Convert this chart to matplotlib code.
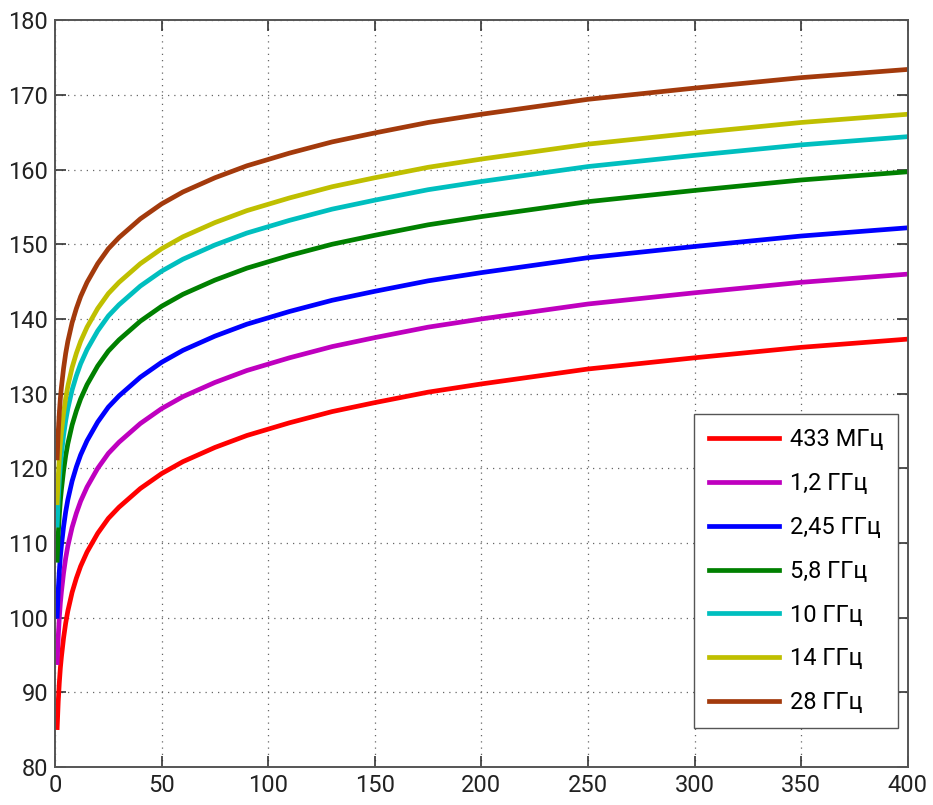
import matplotlib
matplotlib.use("Agg")
import matplotlib.pyplot as plt
from matplotlib import font_manager

# distance (x axis) and loss values
x = [1, 1.5, 2, 2.5, 3, 4, 5, 6, 8, 10, 12, 15, 20, 25, 30, 40, 50, 60, 75, 90,
     110, 130, 150, 175, 200, 250, 300, 350, 400]

loss_433 = [85.3, 88.8, 91.3, 93.3, 94.8, 97.3, 99.3, 100.9, 103.4, 105.3, 106.9, 108.8, 111.3, 113.3, 114.8,
            117.3, 119.3, 120.9, 122.8, 124.4, 126.1, 127.6, 128.8, 130.2, 131.3, 133.3, 134.8, 136.2, 137.3]
loss_1_2 = [94.0, 97.5, 100.0, 102.0, 103.5, 106.0, 108.0, 109.6, 112.1, 114.0, 115.6, 117.5, 120.0, 122.0, 123.5,
            126.0, 128.0, 129.6, 131.5, 133.1, 134.8, 136.3, 137.5, 138.9, 140.0, 142.0, 143.5, 144.9, 146.0]
loss_2_45 = [100.2, 103.7, 106.2, 108.2, 109.7, 112.2, 114.2, 115.8, 118.3, 120.2, 121.8, 123.7, 126.2, 128.2, 129.7,
             132.2, 134.2, 135.8, 137.7, 139.3, 141.0, 142.5, 143.7, 145.1, 146.2, 148.2, 149.7, 151.1, 152.2]
loss_5_8 = [107.7, 111.2, 113.7, 115.7, 117.2, 119.7, 121.7, 123.3, 125.8, 127.7, 129.3, 131.2, 133.7, 135.7, 137.2,
            139.7, 141.7, 143.3, 145.2, 146.8, 148.5, 150.0, 151.2, 152.6, 153.7, 155.7, 157.2, 158.6, 159.7]
loss_10 = [112.4, 115.9, 118.4, 120.4, 121.9, 124.4, 126.4, 128.0, 130.5, 132.4, 134.0, 135.9, 138.4, 140.4, 141.9,
           144.4, 146.4, 148.0, 149.9, 151.5, 153.2, 154.7, 155.9, 157.3, 158.4, 160.4, 161.9, 163.3, 164.4]
loss_14 = [115.4, 118.9, 121.4, 123.4, 124.9, 127.4, 129.4, 131.0, 133.5, 135.4, 137.0, 138.9, 141.4, 143.4, 144.9,
           147.4, 149.4, 151.0, 152.9, 154.5, 156.2, 157.7, 158.9, 160.3, 161.4, 163.4, 164.9, 166.3, 167.4]
loss_28 = [121.4, 124.9, 127.4, 129.4, 130.9, 133.4, 135.4, 137.0, 139.5, 141.4, 143.0, 144.9, 147.4, 149.4, 150.9,
           153.4, 155.4, 157.0, 158.9, 160.5, 162.2, 163.7, 164.9, 166.3, 167.4, 169.4, 170.9, 172.3, 173.4]

labels = ["433 МГц", "1,2 ГГц", "2,45 ГГц", "5,8 ГГц", "10 ГГц", "14 ГГц", "28 ГГц"]
colors = ["#ff0000", "#bf00bf", "#0000ff", "#008000", "#00bfbf", "#bfbf00", "#a33a0c"]

x_ticks = [0, 50, 100, 150, 200, 250, 300, 350, 400]
y_ticks = [80, 90, 100, 110, 120, 130, 140, 150, 160, 170, 180]

# narrow font if there is one, else Roboto
installed = {f.name for f in font_manager.fontManager.ttflist}
if "Liberation Sans Narrow" in installed:
    plt.rcParams['font.family'] = ['Liberation Sans Narrow', 'DejaVu Sans']
    fsize = 20
else:
    plt.rcParams['font.family'] = ['Roboto', 'DejaVu Sans']
    fsize = 17


def main():
    fig = plt.figure(figsize=(9.33, 8.05), dpi=100)
    ax = fig.add_axes([0.059, 0.047, 0.914, 0.928])

    series = [loss_433, loss_1_2, loss_2_45, loss_5_8, loss_10, loss_14, loss_28]
    for vals, lab, col in zip(series, labels, colors):
        ax.plot(x, vals, color=col, lw=3.4, label=lab, solid_joinstyle="round")

    ax.set_xlim(0, 400)
    ax.set_ylim(80, 180)
    ax.set_xticks(x_ticks)
    ax.set_yticks(y_ticks)
    ax.grid(True, linestyle=(0, (1, 4)), color="#666666", linewidth=0.9)
    ax.tick_params(direction="in", length=8, width=1.2, top=True, right=True,
                   labelsize=fsize, colors="#333333", labelcolor="#222222", pad=5)
    for sp in ax.spines.values():
        sp.set_color("#555555")
        sp.set_linewidth(1.4)

    ax.legend(loc="lower right", bbox_to_anchor=(0.988, 0.052), fontsize=fsize,
              frameon=True, fancybox=False, edgecolor="#555555", framealpha=1,
              handlelength=3.0, labelspacing=0.88, borderpad=0.6, handletextpad=0.45,
              borderaxespad=0.0)

    fig.savefig("out.png", dpi=100)


if __name__ == "__main__":
    main()
